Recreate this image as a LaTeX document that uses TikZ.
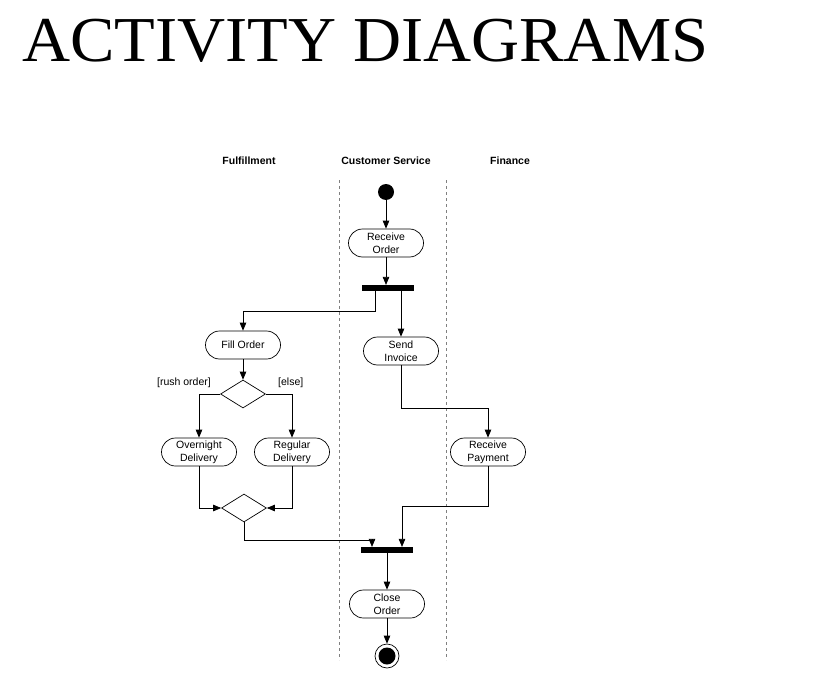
\documentclass[tikz,border=0pt]{standalone}
\usepackage{fontspec}
\setmainfont{Liberation Serif}
\setsansfont{Liberation Sans}
\usepackage{tikz}
\usetikzlibrary{positioning, shapes.geometric, arrows.meta}

\begin{document}
\begin{tikzpicture}[
    x=1pt, y=1pt,
    >={Triangle[length=8pt, width=6.5pt]},
    action/.style={draw, rounded corners=14pt, minimum width=75pt, minimum height=28pt,
                   align=center, inner sep=1pt, font=\sffamily\fontsize{10.5}{13}\selectfont},
    decision/.style={draw, diamond, minimum width=45pt, minimum height=28pt, inner sep=0pt},
    bar/.style={fill=black, minimum width=52pt, minimum height=5.5pt, inner sep=0pt},
    start/.style={circle, fill=black, minimum size=16pt, inner sep=0pt},
    final/.style={circle, draw, minimum size=24pt, inner sep=0pt,
                  path picture={\fill[black] (path picture bounding box.center) circle (8.5pt);}},
    lanehead/.style={font=\sffamily\bfseries\fontsize{10.5}{12}\selectfont},
    guard/.style={font=\sffamily\fontsize{10.5}{12}\selectfont, inner sep=0pt},
    lane/.style={gray, dashed, dash pattern=on 3pt off 3pt, line width=0.7pt},
    arrow/.style={->, line width=0.7pt},
    line width=0.7pt
]
\useasboundingbox (0,0) rectangle (816,-682);

% title
\node[anchor=base west, inner sep=0pt, xscale=1.04, font=\fontsize{64}{70}\selectfont] (title) at (22,-62) {ACTIVITY DIAGRAMS};

% swimlanes
\node[lanehead] (fulfil)  at (249,-161) {Fulfillment};
\node[lanehead] (service) at (386,-161) {Customer Service};
\node[lanehead] (finance) at (510,-161) {Finance};
\draw[lane] (339,-180) -- (339,-660);
\draw[lane] (446,-180) -- (446,-660);

% activities
\node[start]    (init)      at (386,-192) {};
\node[action]   (receive)   at (386,-243) {Receive\\Order};
\node[bar]      (fork)      at (388,-288) {};
\node[action]   (fill)      at (243,-345) {Fill Order};
\node[action]   (invoice)   at (401,-351) {Send\\Invoice};
\node[decision] (dec)       at (243,-394) {};
\node[guard, anchor=east] (rush) at ([xshift=-9pt, yshift=11pt]dec.west) {[rush order]};
\node[guard, anchor=west] (else) at ([xshift=12pt, yshift=11pt]dec.east) {[else]};
\node[action]   (overnight) at (199,-452) {Overnight\\Delivery};
\node[action]   (regular)   at (292,-452) {Regular\\Delivery};
\node[action]   (payment)   at (488,-452) {Receive\\Payment};
\node[decision] (merge)     at (244,-508) {};
\node[bar]      (join)      at (387,-550) {};
\node[action]   (close)     at (387,-604) {Close\\Order};
\node[final]    (end)       at (387,-656) {};

% flows
\draw[arrow] (init) -- (receive);
\draw[arrow] (receive.south) -- (receive.south |- fork.north);
\draw[arrow] ([xshift=-13pt]fork.south) -- ++(0,-20) -| (fill.north);
\draw[arrow] ([xshift=13pt]fork.south) -- (invoice.north);
\draw[arrow] (fill) -- (dec);
\draw[arrow] (dec.west) -| (overnight.north);
\draw[arrow] (dec.east) -| (regular.north);
\draw[arrow] (overnight.south) |- (merge.west);
\draw[arrow] (regular.south) |- (merge.east);
\draw[arrow] (invoice.south) -- ++(0,-43) -| (payment.north);
\draw[arrow] (merge.south) -- ++(0,-18) -| ([xshift=-15pt]join.north);
\draw[arrow] (payment.south) -- ++(0,-40) -| ([xshift=15pt]join.north);
\draw[arrow] (join) -- (close);
\draw[arrow] (close) -- (end);
\end{tikzpicture}
\end{document}
